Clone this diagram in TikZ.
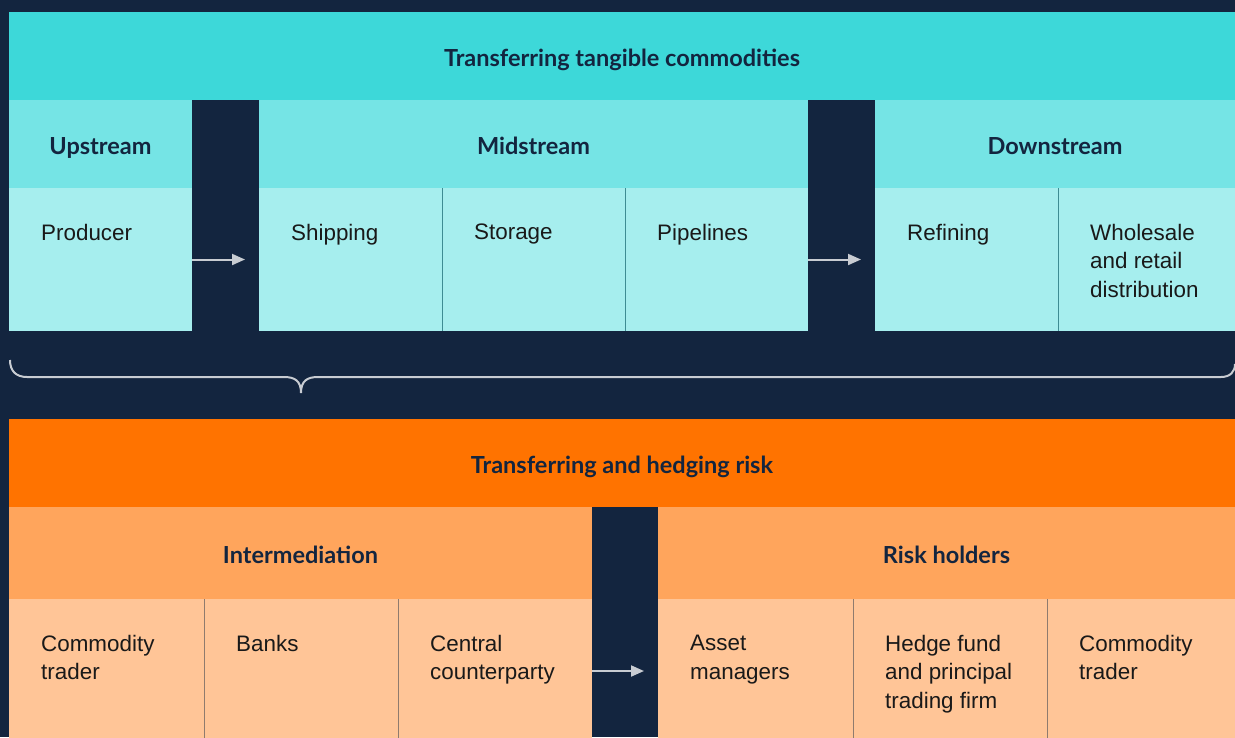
\documentclass[tikz,border=0pt]{standalone}
\usepackage{fontspec}
\setmainfont{Liberation Sans}
\newfontfamily\headfont{Lato}
\usetikzlibrary{arrows.meta}
\definecolor{navy}{HTML}{13253F}
\definecolor{tealA}{HTML}{3DD8D9}
\definecolor{tealB}{HTML}{75E4E5}
\definecolor{tealC}{HTML}{A6EEEE}
\definecolor{orngA}{HTML}{FF7300}
\definecolor{orngB}{HTML}{FFA55C}
\definecolor{orngC}{HTML}{FFC597}
\definecolor{pale}{HTML}{C8CCD2}
\definecolor{tealline}{HTML}{3E8C93}
\definecolor{orngline}{HTML}{8F7B6E}
\begin{document}
\begin{tikzpicture}[x=1pt,y=-1pt,
    band/.style={anchor=north west,inner sep=0pt,outer sep=0pt,text=navy,
      text height=20pt,text depth=0pt,
      font=\headfont\bfseries\fontsize{23.5}{28}\selectfont},
    cell/.style={anchor=north west,inner sep=0pt,outer sep=0pt},
    txt/.style={anchor=north west,inner sep=0pt,align=left,text=black!90,
      font=\fontsize{22.4}{28.5}\selectfont},
    flow/.style={draw=pale,line width=2pt,-{Triangle[length=13pt,width=11pt]},shorten >=14pt},
    sep/.style={line width=0.8pt}]
    \fill[navy] (0,0) rectangle (1235,737);
    \useasboundingbox (0,0) rectangle (1235,737);
    \clip (0,0) rectangle (1235,737);
    %% tangible commodities
    \node[band,fill=tealA,minimum width=1226,minimum height=88] (tang) at (9,12) {Transferring tangible commodities};
    \node[band,fill=tealB,minimum width=183,minimum height=88] (up) at (9,100) {Upstream};
    \node[band,fill=tealB,minimum width=549,minimum height=88] (mid) at (259,100) {Midstream};
    \node[band,fill=tealB,minimum width=360,minimum height=88] (down) at (875,100) {Downstream};
    \node[cell,fill=tealC,minimum width=183,minimum height=143] (prod) at (9,188) {};
    \node[cell,fill=tealC,minimum width=183,minimum height=143] (ship) at (259,188) {};
    \node[cell,fill=tealC,minimum width=183,minimum height=143] (stor) at (442,188) {};
    \node[cell,fill=tealC,minimum width=183,minimum height=143] (pipe) at (625,188) {};
    \node[cell,fill=tealC,minimum width=183,minimum height=143] (refi) at (875,188) {};
    \node[cell,fill=tealC,minimum width=177,minimum height=143] (whol) at (1058,188) {};
    \node[txt] (prodT) at ([shift={(32,36)}]prod.north west) {Producer};
    \node[txt] (shipT) at ([shift={(32,36)}]ship.north west) {Shipping};
    \node[txt] (storT) at ([shift={(32,36)}]stor.north west) {Storage};
    \node[txt] (pipeT) at ([shift={(32,36)}]pipe.north west) {Pipelines};
    \node[txt] (refiT) at ([shift={(32,36)}]refi.north west) {Refining};
    \node[txt] (wholT) at ([shift={(32,36)}]whol.north west) {Wholesale\\and retail\\distribution};
    \draw[tealline,sep] (ship.north east) -- (ship.south east);
    \draw[tealline,sep] (stor.north east) -- (stor.south east);
    \draw[tealline,sep] (refi.north east) -- (refi.south east);
    \draw[flow] (prod.east) -- (ship.west);
    \draw[flow] (pipe.east) -- (refi.west);
    %% brace
    \draw[pale,line width=2pt] (10,360) .. controls (10,371) and (16,377) .. (27,377) -- (284,377)
      .. controls (295,377) and (301,381) .. (301,393) .. controls (301,381) and (307,377) .. (318,377)
      -- (1221,377) .. controls (1230,377) and (1235,372) .. (1235,364);
    %% hedging risk
    \node[band,fill=orngA,minimum width=1226,minimum height=88] (risk) at (9,419) {Transferring and hedging risk};
    \node[band,fill=orngB,minimum width=583,minimum height=92] (inter) at (9,507) {Intermediation};
    \node[band,fill=orngB,minimum width=577,minimum height=92] (hold) at (658,507) {Risk holders};
    \node[cell,fill=orngC,minimum width=195,minimum height=144] (trdA) at (9,599) {};
    \node[cell,fill=orngC,minimum width=194,minimum height=144] (bank) at (204,599) {};
    \node[cell,fill=orngC,minimum width=194,minimum height=144] (ccp) at (398,599) {};
    \node[cell,fill=orngC,minimum width=195,minimum height=144] (asset) at (658,599) {};
    \node[cell,fill=orngC,minimum width=194,minimum height=144] (hedge) at (853,599) {};
    \node[cell,fill=orngC,minimum width=188,minimum height=144] (trdB) at (1047,599) {};
    \node[txt] (trdAT) at ([shift={(32,36)}]trdA.north west) {Commodity\\trader};
    \node[txt] (bankT) at ([shift={(32,36)}]bank.north west) {Banks};
    \node[txt] (ccpT) at ([shift={(32,36)}]ccp.north west) {Central\\counterparty};
    \node[txt] (assetT) at ([shift={(32,36)}]asset.north west) {Asset\\managers};
    \node[txt] (hedgeT) at ([shift={(32,36)}]hedge.north west) {Hedge fund\\and principal\\trading firm};
    \node[txt] (trdBT) at ([shift={(32,36)}]trdB.north west) {Commodity\\trader};
    \draw[orngline,sep] (trdA.north east) -- (trdA.south east);
    \draw[orngline,sep] (bank.north east) -- (bank.south east);
    \draw[orngline,sep] (hedge.north west) -- (hedge.south west);
    \draw[orngline,sep] (hedge.north east) -- (hedge.south east);
    \draw[flow] (ccp.east) -- (asset.west);
\end{tikzpicture}
\end{document}
